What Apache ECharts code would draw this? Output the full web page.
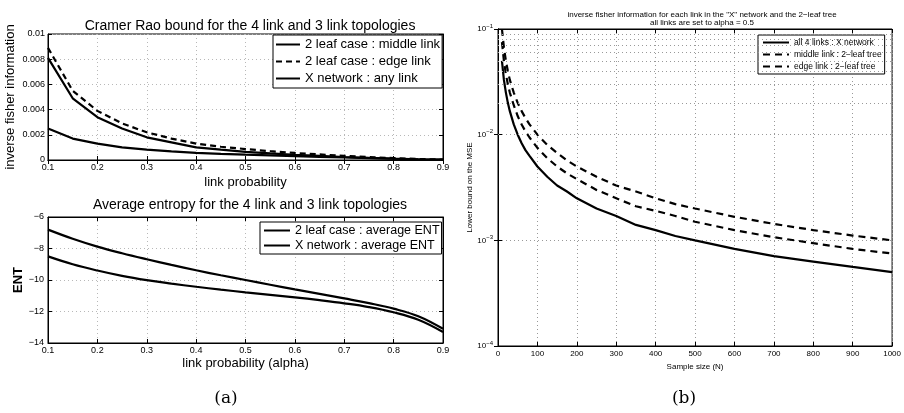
<!DOCTYPE html>
<html><head><meta charset="utf-8">
<script src="https://cdn.jsdelivr.net/npm/echarts@6/dist/echarts.min.js"></script>
<style>html,body{margin:0;padding:0;background:#fff}#c{width:904px;height:413px}</style>
</head><body><div id="c"></div>
<script>
// ---- data ----
const alpha = [0.1,0.15,0.2,0.25,0.3,0.35,0.4,0.45,0.5,0.55,0.6,0.65,0.7,0.75,0.8,0.85,0.9];
const crMiddle = [0.0081,0.0049,0.0034,0.0025,0.0018,0.0014,0.0010,0.00082,0.00065,0.00052,0.00041,0.00032,0.00024,0.00017,0.00011,0.00006,0.00003];
const crEdge   = [0.0089,0.0055,0.0039,0.0029,0.0022,0.0017,0.0013,0.00105,0.00087,0.00070,0.00056,0.00044,0.00033,0.00023,0.00015,0.00008,0.00003];
const crX      = [0.0025,0.0017,0.0013,0.0010,0.00082,0.00068,0.00057,0.00049,0.00042,0.00036,0.00030,0.00025,0.00020,0.00015,0.00010,0.00006,0.00003];
const ent2leaf = [-6.8,-7.38,-7.88,-8.3,-8.68,-9.04,-9.38,-9.7,-10.0,-10.3,-10.6,-10.88,-11.17,-11.47,-11.82,-12.3,-13.1];
const entX     = [-8.5,-9.0,-9.4,-9.74,-10.01,-10.23,-10.43,-10.61,-10.78,-10.94,-11.1,-11.28,-11.48,-11.72,-12.05,-12.52,-13.3];
const sampleN  = [10,15,20,25,30,40,50,60,70,80,100,125,150,175,200,250,300,350,400,450,500,600,700,800,900,1000];
const mseX      = [0.05,0.033,0.025,0.02,0.0167,0.0125,0.01,0.0083,0.0071,0.0063,0.005,0.004,0.0033,0.0029,0.0025,0.002,0.0017,0.0014,0.00125,0.0011,0.001,0.00083,0.00071,0.00063,0.00056,0.0005];
const mseMiddle = [0.075,0.05,0.0375,0.03,0.025,0.019,0.015,0.0125,0.0107,0.0094,0.0075,0.006,0.005,0.0043,0.0038,0.003,0.0025,0.0021,0.0019,0.0017,0.0015,0.00125,0.00107,0.00094,0.00083,0.00075];
const mseEdge   = [0.1,0.067,0.05,0.04,0.033,0.025,0.02,0.0167,0.0143,0.0125,0.01,0.008,0.0067,0.0057,0.005,0.004,0.0033,0.0029,0.0025,0.0022,0.002,0.00167,0.00143,0.00125,0.00111,0.001];
const logMinor  = [2e-4,3e-4,4e-4,5e-4,6e-4,7e-4,8e-4,9e-4,2e-3,3e-3,4e-3,5e-3,6e-3,7e-3,8e-3,9e-3,2e-2,3e-2,4e-2,5e-2,6e-2,7e-2,8e-2,9e-2];
const titleA1 = 'Cramer Rao bound for the 4 link and 3 link topologies';
const titleA2 = 'Average entropy for the 4 link and 3 link topologies';
const titleB  = 'inverse fisher information for each link in the "X" network and the 2\u2212leaf tree\nall links are set to alpha = 0.5';

const pair = (xs, ys) => xs.map((x, i) => [x, ys[i]]);
const FF = 'Liberation Sans, Arial, sans-serif';
const chart = echarts.init(document.getElementById('c'));

const grids = [
  {left: 48, top: 34, width: 395, height: 126},
  {left: 48, top: 217, width: 395, height: 126},
  {left: 498, top: 29, width: 399, height: 317}
];
const gridLine = (c) => ({show: true, lineStyle: {color: c, type: [1, 3], width: 1}});
const axLine = {show: true, lineStyle: {color: '#000', width: 1}};
const tick = {show: true, inside: true, length: 4, lineStyle: {color: '#000'}};
const lbl = (fs, m) => ({fontFamily: FF, fontSize: fs, color: '#000', margin: m});

const xAxes = [
  {gridIndex: 0, type: 'value', min: 0.1, max: 0.9, interval: 0.1, axisLine: axLine, axisTick: tick,
   axisLabel: Object.assign(lbl(9, 3), {formatter: v => v.toFixed(1)}), splitLine: gridLine('#b8b8b8'),
   name: 'link probability', nameLocation: 'middle', nameGap: 16, nameTextStyle: {fontFamily: FF, fontSize: 13, color: '#000'}},
  {gridIndex: 1, type: 'value', min: 0.1, max: 0.9, interval: 0.1, axisLine: axLine, axisTick: tick,
   axisLabel: Object.assign(lbl(9, 3), {formatter: v => v.toFixed(1)}), splitLine: gridLine('#b8b8b8'),
   name: 'link probability (alpha)', nameLocation: 'middle', nameGap: 14, nameTextStyle: {fontFamily: FF, fontSize: 13, color: '#000'}},
  {gridIndex: 2, type: 'value', min: 0, max: 1000, interval: 100, axisLine: axLine, axisTick: tick,
   axisLabel: Object.assign(lbl(8, 4), {formatter: v => String(v)}), splitLine: gridLine('#999'),
   name: 'Sample size (N)', nameLocation: 'middle', nameGap: 14, nameTextStyle: {fontFamily: FF, fontSize: 8, color: '#000'}},
  {gridIndex: 0, type: 'value', position: 'top', min: 0.1, max: 0.9, interval: 0.1, axisLine: axLine, axisTick: tick, axisLabel: {show: false}, splitLine: {show: false}},
  {gridIndex: 1, type: 'value', position: 'top', min: 0.1, max: 0.9, interval: 0.1, axisLine: axLine, axisTick: tick, axisLabel: {show: false}, splitLine: {show: false}},
  {gridIndex: 2, type: 'value', position: 'top', min: 0, max: 1000, interval: 100, axisLine: axLine, axisTick: tick, axisLabel: {show: false}, splitLine: {show: false}}
];
const yAxes = [
  {gridIndex: 0, type: 'value', min: 0, max: 0.01, interval: 0.002, axisLine: axLine, axisTick: tick,
   axisLabel: lbl(9, 3), splitLine: gridLine('#b8b8b8'),
   name: 'inverse fisher information', nameLocation: 'middle', nameGap: 31, nameTextStyle: {fontFamily: FF, fontSize: 13, color: '#000'}},
  {gridIndex: 1, type: 'value', min: -14, max: -6, interval: 2, axisLine: axLine, axisTick: tick,
   axisLabel: Object.assign(lbl(9, 4), {formatter: v => String(v).replace('-', '\u2212')}), splitLine: gridLine('#b8b8b8'),
   name: 'ENT', nameLocation: 'middle', nameGap: 21, nameTextStyle: {fontFamily: FF, fontSize: 13, fontWeight: 'bold', color: '#000'}},
  {gridIndex: 2, type: 'log', logBase: 10, min: 1e-4, max: 1e-1, axisLine: axLine, axisTick: tick,
   axisLabel: Object.assign(lbl(8, 5), {
     formatter: v => '{b|10}{s|\u2212' + Math.abs(Math.round(Math.log10(v))) + '}',
     rich: {b: {fontFamily: FF, fontSize: 8, color: '#000'}, s: {fontFamily: FF, fontSize: 6, color: '#000', padding: [0, 0, 6, 0]}}
   }), splitLine: gridLine('#999'),
   name: 'Lower bound on the MSE', nameLocation: 'middle', nameGap: 24, nameTextStyle: {fontFamily: FF, fontSize: 8, color: '#000'}},
  {gridIndex: 0, type: 'value', position: 'right', min: 0, max: 0.01, interval: 0.002, axisLine: axLine, axisTick: tick, axisLabel: {show: false}, splitLine: {show: false}},
  {gridIndex: 1, type: 'value', position: 'right', min: -14, max: -6, interval: 2, axisLine: axLine, axisTick: tick, axisLabel: {show: false}, splitLine: {show: false}},
  {gridIndex: 2, type: 'log', position: 'right', logBase: 10, min: 1e-4, max: 1e-1, axisLine: axLine, axisTick: tick, axisLabel: {show: false}, splitLine: {show: false}}
];

const ln = (name, xi, yi, data, dashed, w, smooth) => ({
  name, type: 'line', xAxisIndex: xi, yAxisIndex: yi, data, symbol: 'none', showSymbol: false,
  smooth: smooth || false,
  lineStyle: {color: '#000', width: w, type: dashed ? dashed : 'solid'}, itemStyle: {color: '#000'},
  animation: false, silent: true, clip: true
});

const series = [
  ln('2 leaf case : middle link', 0, 0, pair(alpha, crMiddle), null, 2.2),
  ln('2 leaf case : edge link', 0, 0, pair(alpha, crEdge), [6, 4], 2.2),
  ln('X network : any link', 0, 0, pair(alpha, crX), null, 2.2),
  ln('2 leaf case : average ENT', 1, 1, pair(alpha, ent2leaf), null, 2.2, 0.4),
  ln('X network : average ENT', 1, 1, pair(alpha, entX), null, 2.2, 0.4),
  ln('all 4 links : X network', 2, 2, pair(sampleN, mseX), null, 2.2),
  ln('middle link : 2\u2212leaf tree', 2, 2, pair(sampleN, mseMiddle), [7, 5], 2.2),
  ln('edge link : 2\u2212leaf tree', 2, 2, pair(sampleN, mseEdge), [7, 5], 2.2)
];
series[5].markLine = {silent: true, symbol: 'none', label: {show: false}, animation: false,
  lineStyle: {color: '#999', type: [1, 3], width: 1}, data: logMinor.map(v => ({yAxis: v}))};

const legendBase = {orient: 'vertical', backgroundColor: '#fff', borderColor: '#000', borderWidth: 1,
  selectedMode: false, inactiveColor: '#000', itemStyle: {opacity: 0, borderWidth: 0}};

const option = {
  animation: false,
  backgroundColor: '#fff',
  title: [
    {text: titleA1, left: 245, top: 14, textAlign: 'center', textStyle: {fontFamily: FF, fontSize: 14, fontWeight: 'normal', color: '#000'}},
    {text: titleA2, left: 245, top: 193, textAlign: 'center', textStyle: {fontFamily: FF, fontSize: 14, fontWeight: 'normal', color: '#000'}},
    {text: titleB, left: 697, top: 6, textAlign: 'center', textStyle: {fontFamily: FF, fontSize: 8, lineHeight: 8, fontWeight: 'normal', color: '#000'}},
    {text: '(a)', left: 221, top: 385, textAlign: 'center', textStyle: {fontFamily: 'DejaVu Serif, Liberation Serif, serif', fontSize: 17, fontWeight: 'normal', color: '#000'}},
    {text: '(b)', left: 679, top: 385, textAlign: 'center', textStyle: {fontFamily: 'DejaVu Serif, Liberation Serif, serif', fontSize: 17, fontWeight: 'normal', color: '#000'}}
  ],
  grid: grids.map(g => Object.assign({show: true, borderColor: '#000', borderWidth: 1, backgroundColor: '#fff'}, g)),
  xAxis: xAxes,
  yAxis: yAxes,
  legend: [
    Object.assign({}, legendBase, {data: [series[0].name, series[1].name, series[2].name], left: 273, top: 35,
      itemWidth: 24, itemHeight: 12, itemGap: 4, padding: [3, 2, 3, 2],
      textStyle: {fontFamily: FF, fontSize: 13, color: '#000'}}),
    Object.assign({}, legendBase, {data: [series[3].name, series[4].name], left: 260, top: 222,
      itemWidth: 26, itemHeight: 11, itemGap: 2, padding: [2, 2, 2, 3],
      textStyle: {fontFamily: FF, fontSize: 12.5, color: '#000'}}),
    Object.assign({}, legendBase, {data: [series[5].name, series[6].name, series[7].name], left: 758, top: 35,
      itemWidth: 26, itemHeight: 9, itemGap: 3, padding: [3, 3, 3, 4],
      textStyle: {fontFamily: FF, fontSize: 8.5, color: '#000'}})
  ],
  series
};
chart.setOption(option);
</script></body></html>
